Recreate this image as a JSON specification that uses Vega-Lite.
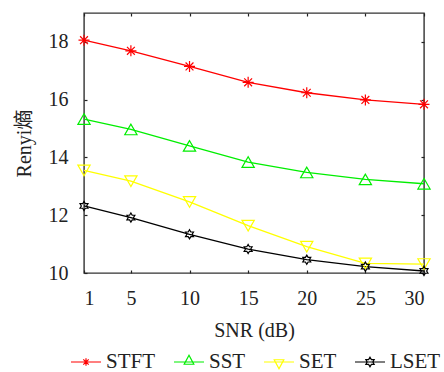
{
  "$schema": "https://vega.github.io/schema/vega-lite/v6.json",
  "width": 340,
  "height": 260,
  "autosize": {"type": "none"},
  "padding": {"left": 84, "top": 13, "right": 20, "bottom": 99},
  "background": "white",
  "config": {
    "view": {"stroke": "#333333", "strokeWidth": 1.4},
    "font": "Liberation Serif, serif",
    "axis": {"grid": false, "domain": false, "tickColor": "#222222", "tickSize": -3, "tickWidth": 1.2, "labelFont": "Liberation Serif, serif", "titleFont": "Liberation Serif, Noto Sans CJK SC, serif", "labelFontSize": 20, "titleFontSize": 20, "labelColor": "#222222", "titleColor": "#222222", "titleFontWeight": "normal"},
    "legend": {"labelFont": "Liberation Serif, serif", "labelFontSize": 21, "labelColor": "#222222"}
  },
  "data": {
    "values": [
      {"snr": 1, "value": 18.06, "series": "STFT"},
      {"snr": 5, "value": 17.69, "series": "STFT"},
      {"snr": 10, "value": 17.15, "series": "STFT"},
      {"snr": 15, "value": 16.6, "series": "STFT"},
      {"snr": 20, "value": 16.24, "series": "STFT"},
      {"snr": 25, "value": 15.99, "series": "STFT"},
      {"snr": 30, "value": 15.84, "series": "STFT"},
      {"snr": 1, "value": 15.33, "series": "SST"},
      {"snr": 5, "value": 14.97, "series": "SST"},
      {"snr": 10, "value": 14.4, "series": "SST"},
      {"snr": 15, "value": 13.84, "series": "SST"},
      {"snr": 20, "value": 13.48, "series": "SST"},
      {"snr": 25, "value": 13.24, "series": "SST"},
      {"snr": 30, "value": 13.09, "series": "SST"},
      {"snr": 1, "value": 13.55, "series": "SET"},
      {"snr": 5, "value": 13.18, "series": "SET"},
      {"snr": 10, "value": 12.46, "series": "SET"},
      {"snr": 15, "value": 11.64, "series": "SET"},
      {"snr": 20, "value": 10.91, "series": "SET"},
      {"snr": 25, "value": 10.33, "series": "SET"},
      {"snr": 30, "value": 10.31, "series": "SET"},
      {"snr": 1, "value": 12.32, "series": "LSET"},
      {"snr": 5, "value": 11.92, "series": "LSET"},
      {"snr": 10, "value": 11.34, "series": "LSET"},
      {"snr": 15, "value": 10.83, "series": "LSET"},
      {"snr": 20, "value": 10.46, "series": "LSET"},
      {"snr": 25, "value": 10.22, "series": "LSET"},
      {"snr": 30, "value": 10.07, "series": "LSET"}
    ]
  },
  "encoding": {
    "x": {"field": "snr", "type": "quantitative", "scale": {"domain": [1, 30], "nice": false, "zero": false}},
    "y": {"field": "value", "type": "quantitative", "scale": {"domain": [10, 19], "nice": false, "zero": false}},
    "color": {"field": "series", "type": "nominal", "scale": {"domain": ["STFT", "SST", "SET", "LSET"], "range": ["#ff0000", "#00ee00", "#ffff00", "#000000"]}, "legend": {"orient": "none", "legendX": -14, "legendY": 333, "direction": "horizontal", "title": null, "symbolSize": 900, "symbolStrokeWidth": 1.2, "columnPadding": 15, "labelOffset": 4}}
  },
  "layer": [
    {
      "mark": {"type": "line", "strokeWidth": 1.3},
      "encoding": {
        "x": {"field": "snr", "type": "quantitative", "axis": {"values": [1, 5, 10, 15, 20, 25, 30], "title": "SNR (dB)", "labelPadding": 18, "titlePadding": 12}},
        "y": {"field": "value", "type": "quantitative", "axis": {"values": [10, 12, 14, 16, 18], "title": "Renyi熵", "labelPadding": 19, "titlePadding": 14}},
        "detail": {"field": "series"}
      }
    },
    {
      "transform": [{"filter": "datum.series == 'STFT'"}],
      "mark": {"type": "point", "filled": false, "strokeWidth": 1.2, "size": 150, "opacity": 1, "shape": "M-0.9,0H0.9M0,-0.9V0.9M-0.64,-0.64L0.64,0.64M-0.64,0.64L0.64,-0.64"},
      "encoding": {
        "x": {"field": "snr", "type": "quantitative", "axis": {"orient": "top", "values": [1, 5, 10, 15, 20, 25, 30], "labels": false, "title": null}},
        "y": {"field": "value", "type": "quantitative", "axis": {"orient": "right", "values": [10, 12, 14, 16, 18], "labels": false, "title": null}}
      }
    },
    {
      "transform": [{"filter": "datum.series == 'SST'"}],
      "mark": {"type": "point", "filled": false, "strokeWidth": 1.2, "size": 150, "opacity": 1, "shape": "triangle-up"},
      "encoding": {
        "x": {"field": "snr", "type": "quantitative", "axis": null},
        "y": {"field": "value", "type": "quantitative", "axis": null}
      }
    },
    {
      "transform": [{"filter": "datum.series == 'SET'"}],
      "mark": {"type": "point", "filled": false, "strokeWidth": 1.2, "size": 150, "opacity": 1, "shape": "triangle-down"},
      "encoding": {
        "x": {"field": "snr", "type": "quantitative", "axis": null},
        "y": {"field": "value", "type": "quantitative", "axis": null}
      }
    },
    {
      "transform": [{"filter": "datum.series == 'LSET'"}],
      "mark": {"type": "point", "filled": false, "strokeWidth": 1.2, "size": 150, "opacity": 1, "shape": "M0,-0.75L0.217,-0.375L0.65,-0.375L0.433,0L0.65,0.375L0.217,0.375L0,0.75L-0.217,0.375L-0.65,0.375L-0.433,0L-0.65,-0.375L-0.217,-0.375Z"},
      "encoding": {
        "x": {"field": "snr", "type": "quantitative", "axis": null},
        "y": {"field": "value", "type": "quantitative", "axis": null}
      }
    },
    {
      "transform": [{"filter": "datum.snr < 0"}],
      "mark": {"type": "point", "filled": false, "strokeWidth": 1.2},
      "encoding": {
        "x": {"field": "snr", "type": "quantitative", "axis": null},
        "y": {"field": "value", "type": "quantitative", "axis": null},
        "shape": {"field": "series", "type": "nominal", "scale": {"domain": ["STFT", "SST", "SET", "LSET"], "range": ["M-1,0H1M-0.25,0H0.25M0,-0.25V0.25M-0.18,-0.18L0.18,0.18M-0.18,0.18L0.18,-0.18", "M-1,0H1M-0.32,0.15L0.32,0.15L0,-0.45Z", "M-1,0H1M-0.32,-0.15L0.32,-0.15L0,0.45Z", "M-1,0H1M0,-0.32L0.092,-0.16L0.277,-0.16L0.185,0L0.277,0.16L0.092,0.16L0,0.32L-0.092,0.16L-0.277,0.16L-0.185,0L-0.277,-0.16L-0.092,-0.16Z"]}, "legend": {"orient": "none", "legendX": -14, "legendY": 333, "direction": "horizontal", "title": null, "symbolSize": 900, "symbolStrokeWidth": 1.2, "columnPadding": 15, "labelOffset": 4}}
      }
    }
  ],
  "resolve": {"axis": {"x": "independent", "y": "independent"}}
}
